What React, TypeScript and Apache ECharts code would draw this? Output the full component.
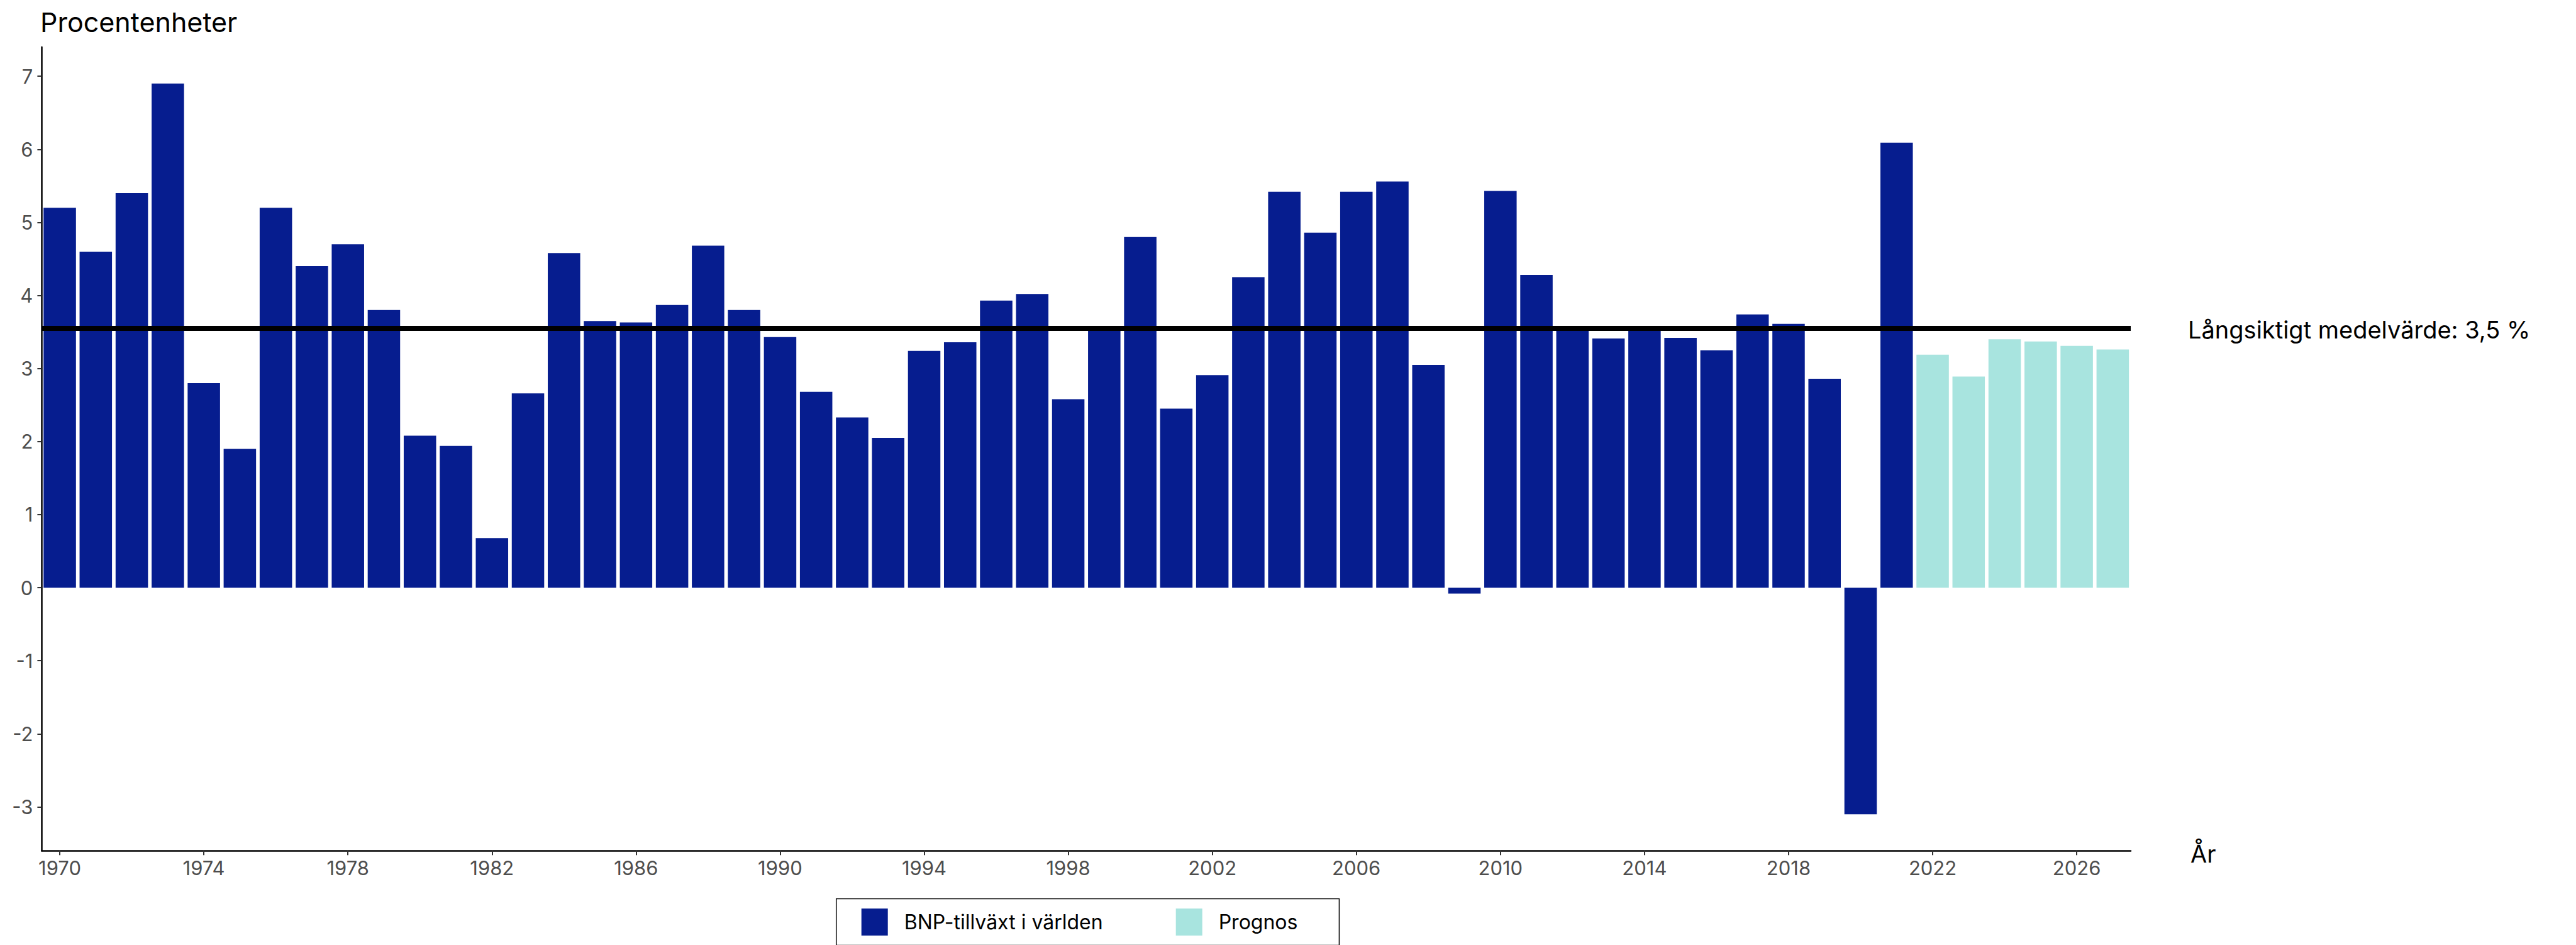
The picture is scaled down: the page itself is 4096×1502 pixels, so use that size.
import React, { useEffect, useRef } from "react";
import * as echarts from "echarts";

const years = [
  "1970", "1971", "1972", "1973", "1974", "1975", "1976", "1977", "1978", "1979",
  "1980", "1981", "1982", "1983", "1984", "1985", "1986", "1987", "1988", "1989",
  "1990", "1991", "1992", "1993", "1994", "1995", "1996", "1997", "1998", "1999",
  "2000", "2001", "2002", "2003", "2004", "2005", "2006", "2007", "2008", "2009",
  "2010", "2011", "2012", "2013", "2014", "2015", "2016", "2017", "2018", "2019",
  "2020", "2021", "2022", "2023", "2024", "2025", "2026", "2027",
];

// BNP-tillväxt i världen, 1970–2021
const bnpValues = [
  5.2, 4.6, 5.4, 6.9, 2.8, 1.9, 5.2, 4.4, 4.7, 3.8,
  2.08, 1.94, 0.68, 2.66, 4.58, 3.65, 3.63, 3.87, 4.68, 3.8,
  3.43, 2.68, 2.33, 2.05, 3.24, 3.36, 3.93, 4.02, 2.58, 3.54,
  4.8, 2.45, 2.91, 4.25, 5.42, 4.86, 5.42, 5.56, 3.05, -0.08,
  5.43, 4.28, 3.54, 3.41, 3.55, 3.42, 3.25, 3.74, 3.61, 2.86,
  -3.1, 6.09,
];

// Prognos, 2022–2027
const prognosValues = [3.19, 2.89, 3.4, 3.37, 3.31, 3.26];

const meanValue = 3.55;
const yTicks = [-3, -2, -1, 0, 1, 2, 3, 4, 5, 6, 7];
const seriesNames = ["BNP-tillväxt i världen", "Prognos"];
const yTitle = "Procentenheter";
const xTitle = "År";
const meanLabel = "Långsiktigt medelvärde: 3,5 %";

const BLUE = "#061D8F";
const TEAL = "#A8E4DF";
const FONT = "Inter";

export default function App() {
  const ref = useRef<HTMLDivElement>(null);

  useEffect(() => {
    if (!ref.current) return;
    const chart = echarts.init(ref.current, undefined, { renderer: "svg" });

    const nHist = bnpValues.length;
    const bnpData = years.map((_, i) => (i < nHist ? bnpValues[i] : "-"));
    const prognosData = years.map((_, i) =>
      i >= nHist ? prognosValues[i - nHist] : "-"
    );

    chart.setOption({
      animation: false,
      backgroundColor: "#ffffff",
      textStyle: { fontFamily: FONT },
      grid: {
        left: 66.4,
        right: 708,
        top: 74.7,
        bottom: 149.8,
        containLabel: false,
        outerBoundsMode: "none",
      },
      legend: {
        left: 1329.7,
        top: 1428.4,
        orient: "horizontal",
        padding: [15.6, 66, 15.6, 40],
        itemWidth: 42,
        itemHeight: 43,
        itemGap: 116,
        borderColor: "#000000",
        borderWidth: 1.5,
        icon: "rect",
        selectedMode: false,
        data: seriesNames,
        textStyle: {
          fontFamily: FONT,
          fontSize: 32,
          color: "#000000",
          padding: [0, 0, 0, 21],
        },
      },
      xAxis: {
        type: "category",
        data: years,
        boundaryGap: true,
        axisLine: {
          show: true,
          onZero: false,
          lineStyle: { color: "#000000", width: 2.5 },
        },
        axisTick: {
          show: true,
          interval: 3,
          alignWithLabel: true,
          length: 7,
          lineStyle: { color: "#333333", width: 2 },
        },
        axisLabel: {
          interval: 3,
          margin: 12,
          fontFamily: FONT,
          fontSize: 31,
          color: "#4D4D4D",
        },
        splitLine: { show: false },
      },
      yAxis: {
        type: "value",
        min: -3.6,
        max: 7.4,
        axisLine: {
          show: true,
          onZero: false,
          lineStyle: { color: "#000000", width: 2.5 },
        },
        axisTick: {
          show: true,
          length: 7,
          customValues: yTicks,
          lineStyle: { color: "#333333", width: 2 },
        },
        axisLabel: {
          customValues: yTicks,
          margin: 14,
          fontFamily: FONT,
          fontSize: 31,
          color: "#4D4D4D",
        },
        splitLine: { show: false },
      },
      graphic: [
        {
          type: "text",
          x: 64,
          y: 35.2,
          style: {
            text: yTitle,
            fontFamily: FONT,
            fontSize: 43,
            fill: "#000000",
            textAlign: "left",
            textVerticalAlign: "middle",
          },
        },
        {
          type: "text",
          x: 3479,
          y: 523.6,
          style: {
            text: meanLabel,
            fontFamily: FONT,
            fontSize: 38,
            fill: "#000000",
            textAlign: "left",
            textVerticalAlign: "middle",
          },
        },
        {
          type: "text",
          x: 3483,
          y: 1356.6,
          style: {
            text: xTitle,
            fontFamily: FONT,
            fontSize: 38,
            fill: "#000000",
            textAlign: "left",
            textVerticalAlign: "middle",
          },
        },
      ],
      series: [
        {
          name: seriesNames[0],
          type: "bar",
          stack: "total",
          data: bnpData,
          barCategoryGap: "10%",
          itemStyle: { color: BLUE },
        },
        {
          name: seriesNames[1],
          type: "bar",
          stack: "total",
          data: prognosData,
          barCategoryGap: "10%",
          itemStyle: { color: TEAL },
          markLine: {
            silent: true,
            symbol: ["none", "none"],
            z: 10,
            label: { show: false },
            lineStyle: { color: "#000000", width: 8, type: "solid" },
            data: [{ yAxis: meanValue }],
          },
        },
      ],
    });

    return () => {
      chart.dispose();
    };
  }, []);

  return (
    <div
      ref={ref}
      style={{
        position: "fixed",
        left: 0,
        top: 0,
        width: 4096,
        height: 1502,
        background: "#ffffff",
      }}
    />
  );
}
